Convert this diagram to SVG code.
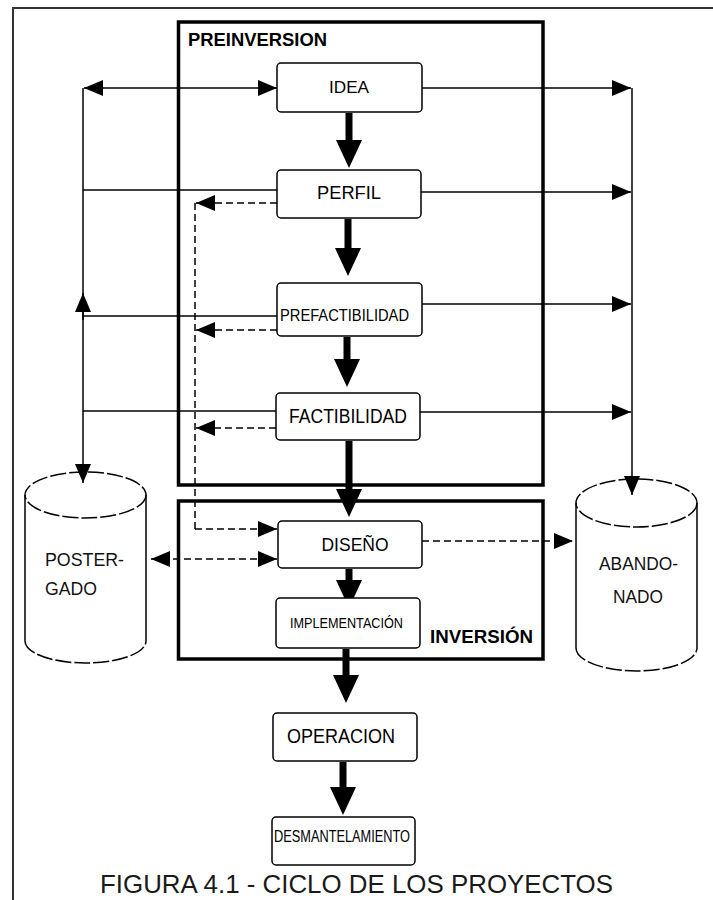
<svg xmlns="http://www.w3.org/2000/svg" width="713" height="900" viewBox="0 0 713 900">
  <style>
    .box { fill: #fff; stroke: #000; stroke-width: 1.5; }
    .stage { fill: none; stroke: #000; stroke-width: 3.5; }
    .thin { fill: none; stroke: #000; stroke-width: 1.5; }
    .dash { stroke-dasharray: 7 4; }
    .thick { fill: none; stroke: #000; stroke-width: 7; }
    .rim { fill: none; stroke: #000; stroke-width: 1.5; stroke-dasharray: 16 3; }
    .lbl { font-family: "Liberation Sans", Arial, sans-serif; fill: #000; text-anchor: middle; }
    .head { font-family: "Liberation Sans", Arial, sans-serif; font-weight: bold; font-size: 18px; fill: #000; }
    .side { font-family: "Liberation Sans", Arial, sans-serif; font-size: 19px; fill: #111; }
  </style>
  <defs>
    <marker id="ah" markerUnits="userSpaceOnUse" viewBox="0 0 20 16" markerWidth="20" markerHeight="16" refX="19" refY="8" orient="auto-start-reverse">
      <path d="M0,0 L19,8 L0,16 z" fill="#000"/>
    </marker>
    <marker id="big" markerUnits="userSpaceOnUse" viewBox="0 0 28 26" markerWidth="28" markerHeight="26" refX="0" refY="13" orient="auto">
      <path d="M0,0 L28,13 L0,26 z" fill="#000"/>
    </marker>
  </defs>

  <rect width="713" height="900" fill="#fff"/>

  <!-- outer frame (top and left edges) -->
  <path d="M13,900 L13,8 L713,8" fill="none" stroke="#333" stroke-width="2"/>

  <!-- stage containers -->
  <g id="preinversion">
    <rect class="stage" x="178.5" y="22" width="364.5" height="463"/>
    <text class="head" x="188" y="46" textLength="139" lengthAdjust="spacingAndGlyphs">PREINVERSION</text>
  </g>
  <g id="inversion">
    <rect class="stage" x="178.5" y="501" width="364.5" height="158"/>
    <text class="head" x="430" y="643" textLength="103" lengthAdjust="spacingAndGlyphs">INVERSIÓN</text>
  </g>

  <!-- connectors -->
  <g id="connectors">
    <!-- left side: towards POSTERGADO -->
    <line class="thin" x1="84" y1="88" x2="277" y2="88" marker-start="url(#ah)" marker-end="url(#ah)"/>
    <line class="thin" x1="83" y1="88" x2="83" y2="483" marker-end="url(#ah)"/>
    <line class="thin" x1="83" y1="320" x2="83" y2="293" marker-end="url(#ah)"/>
    <line class="thin" x1="83" y1="190" x2="277" y2="190"/>
    <line class="thin" x1="83" y1="316" x2="277" y2="316"/>
    <line class="thin" x1="83" y1="411" x2="276" y2="411"/>

    <!-- right side: towards ABANDONADO -->
    <line class="thin" x1="422" y1="88" x2="631" y2="88" marker-end="url(#ah)"/>
    <line class="thin" x1="421" y1="192" x2="631" y2="192" marker-end="url(#ah)"/>
    <line class="thin" x1="422" y1="304" x2="631" y2="304" marker-end="url(#ah)"/>
    <line class="thin" x1="420" y1="412" x2="631" y2="412" marker-end="url(#ah)"/>
    <line class="thin" x1="632" y1="88" x2="632" y2="495" marker-end="url(#ah)"/>

    <!-- dashed feedback into DISEÑO -->
    <line class="thin dash" x1="277" y1="203" x2="196" y2="203" marker-end="url(#ah)"/>
    <line class="thin dash" x1="277" y1="330" x2="196" y2="330" marker-end="url(#ah)"/>
    <line class="thin dash" x1="276" y1="428" x2="196" y2="428" marker-end="url(#ah)"/>
    <line class="thin dash" x1="195" y1="203" x2="195" y2="529"/>
    <line class="thin dash" x1="195" y1="529" x2="277" y2="529" marker-end="url(#ah)"/>
    <line class="thin dash" x1="151" y1="559" x2="277" y2="559" marker-start="url(#ah)" marker-end="url(#ah)"/>
    <line class="thin dash" x1="422" y1="541" x2="573" y2="541" marker-end="url(#ah)"/>

    <!-- main sequence -->
    <line class="thick" x1="349" y1="113" x2="349" y2="140" marker-end="url(#big)"/>
    <line class="thick" x1="348" y1="219" x2="348" y2="248" marker-end="url(#big)"/>
    <line class="thick" x1="347" y1="337" x2="347" y2="359" marker-end="url(#big)"/>
    <line class="thick" x1="349" y1="441" x2="349" y2="489" marker-end="url(#big)"/>
    <line class="thick" x1="349" y1="569" x2="349" y2="580" marker-end="url(#big)"/>
    <line class="thick" x1="346" y1="649" x2="346" y2="675" marker-end="url(#big)"/>
    <line class="thick" x1="343" y1="762" x2="343" y2="787" marker-end="url(#big)"/>
  </g>

  <!-- process steps -->
  <g id="idea">
    <rect class="box" x="277" y="63" width="145" height="49" rx="4"/>
    <text class="lbl" x="349" y="93" font-size="17" textLength="40" lengthAdjust="spacingAndGlyphs">IDEA</text>
  </g>
  <g id="perfil">
    <rect class="box" x="277" y="170" width="144" height="48" rx="4"/>
    <text class="lbl" x="349" y="199" font-size="18" textLength="64" lengthAdjust="spacingAndGlyphs">PERFIL</text>
  </g>
  <g id="prefactibilidad">
    <rect class="box" x="277" y="283" width="145" height="53" rx="4"/>
    <text class="lbl" x="344.5" y="321" font-size="16" textLength="129" lengthAdjust="spacingAndGlyphs">PREFACTIBILIDAD</text>
  </g>
  <g id="factibilidad">
    <rect class="box" x="276" y="393" width="144" height="47" rx="4"/>
    <text class="lbl" x="348" y="423" font-size="20" textLength="118" lengthAdjust="spacingAndGlyphs">FACTIBILIDAD</text>
  </g>
  <g id="diseno">
    <rect class="box" x="278" y="521" width="144" height="47" rx="4"/>
    <text class="lbl" x="355" y="551" font-size="19" textLength="67" lengthAdjust="spacingAndGlyphs">DISEÑO</text>
  </g>
  <g id="implementacion">
    <rect class="box" x="276" y="598" width="144" height="50" rx="4"/>
    <text class="lbl" x="346.5" y="628" font-size="15" textLength="113" lengthAdjust="spacingAndGlyphs">IMPLEMENTACIÓN</text>
  </g>
  <g id="operacion">
    <rect class="box" x="273" y="713" width="144" height="48" rx="4"/>
    <text class="lbl" x="341" y="743" font-size="20" textLength="108" lengthAdjust="spacingAndGlyphs">OPERACION</text>
  </g>
  <g id="desmantelamiento">
    <rect class="box" x="272" y="817" width="143" height="48" rx="4"/>
    <text class="lbl" x="342" y="842" font-size="16" textLength="136" lengthAdjust="spacingAndGlyphs">DESMANTELAMIENTO</text>
  </g>

  <!-- store: POSTERGADO -->
  <g id="postergado">
    <path class="thin" d="M25,495 L25,641 M146,495 L146,641"/>
    <path class="rim" d="M25,641 A60.5,22 0 0 0 146,641"/>
    <ellipse class="rim" cx="85.5" cy="495" rx="60.5" ry="23"/>
    <text class="side" x="45" y="566" textLength="79" lengthAdjust="spacingAndGlyphs">POSTER-</text>
    <text class="side" x="45" y="595" textLength="52" lengthAdjust="spacingAndGlyphs">GADO</text>
  </g>

  <!-- store: ABANDONADO -->
  <g id="abandonado">
    <path class="thin" d="M576,503 L576,648 M697,503 L697,648"/>
    <path class="rim" d="M576,648 A60.5,23 0 0 0 697,648"/>
    <ellipse class="rim" cx="636.5" cy="503" rx="60.5" ry="24"/>
    <text class="side" x="638.5" y="570" text-anchor="middle" textLength="79" lengthAdjust="spacingAndGlyphs">ABANDO-</text>
    <text class="side" x="638" y="603" text-anchor="middle" textLength="50" lengthAdjust="spacingAndGlyphs">NADO</text>
  </g>

  <!-- caption -->
  <text x="356.5" y="893" font-family="Liberation Sans, Arial, sans-serif" font-size="25.8" fill="#1a1a1a" text-anchor="middle" textLength="513" lengthAdjust="spacingAndGlyphs">FIGURA 4.1 - CICLO DE LOS PROYECTOS</text>
</svg>
